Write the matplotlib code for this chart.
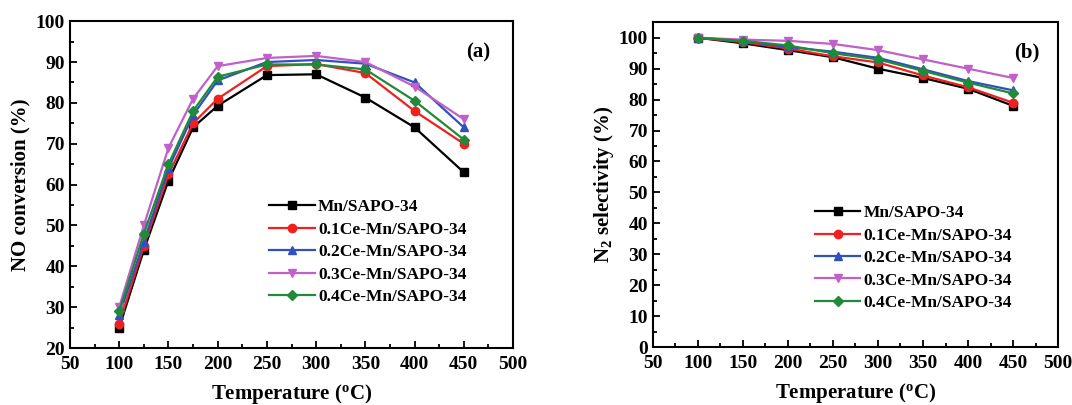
import matplotlib
matplotlib.use('Agg')
import matplotlib.pyplot as plt

plt.rcParams['font.family'] = 'Liberation Serif'
plt.rcParams['font.weight'] = 'bold'
plt.rcParams['mathtext.fontset'] = 'custom'
plt.rcParams['mathtext.rm'] = 'Liberation Serif:bold'
plt.rcParams['mathtext.bf'] = 'Liberation Serif:bold'
plt.rcParams['mathtext.it'] = 'Liberation Serif:bold'

labels = ['Mn/SAPO-34', '0.1Ce-Mn/SAPO-34', '0.2Ce-Mn/SAPO-34',
          '0.3Ce-Mn/SAPO-34', '0.4Ce-Mn/SAPO-34']
colors = ['black', '#f02020', '#3050c0', '#c060c8', '#208a3a']
markers = ['s', 'o', '^', 'v', 'D']

# (a) NO conversion
temp_a = [100, 125, 150, 175, 200, 250, 300, 350, 400, 450]
no_mn = [25, 44, 61, 74, 79.3, 86.8, 87, 81.3, 74, 63]
no_01 = [26, 45, 62.5, 75, 81, 89, 89.5, 87.3, 78, 70]
no_02 = [28, 46, 64, 77, 85.5, 90, 90.5, 89.6, 85, 74]
no_03 = [30, 50, 69, 81, 89, 91, 91.5, 90, 84, 76]
no_04 = [29, 48, 65, 78, 86.4, 89.4, 89.4, 88.2, 80.5, 71]

# (b) N2 selectivity
temp_b = [100, 150, 200, 250, 300, 350, 400, 450]
n2_mn = [100, 98.2, 96, 93.7, 90, 87, 83.5, 78]
n2_01 = [100, 98.6, 96.5, 94, 92, 87.8, 84, 79]
n2_02 = [100, 99, 97, 95.5, 93.5, 89.8, 86, 83]
n2_03 = [100, 99.4, 99, 98, 96, 93, 90, 87]
n2_04 = [100, 99, 97.5, 95, 93, 89.3, 85.5, 82]

fig = plt.figure(figsize=(10.72, 4.05), dpi=100)
ax1 = fig.add_axes([0.0653, 0.1407, 0.4133, 0.807])
ax2 = fig.add_axes([0.609, 0.143, 0.378, 0.802])


def style_axis(ax):
    for sp in ax.spines.values():
        sp.set_linewidth(1.5)
    ax.tick_params(which='both', direction='in', top=False, right=False,
                   labelsize=14, width=1.3)
    ax.tick_params(which='major', length=5)
    ax.tick_params(which='minor', length=3)
    ax.tick_params(axis='x', pad=6)
    ax.set_xlim(50, 500)
    ax.set_xticks(range(50, 501, 50))
    ax.set_xticks(range(75, 500, 50), minor=True)
    ax.set_xlabel(r'Temperature ($^\mathregular{o}$C)', fontsize=15,
                  fontweight='bold', labelpad=6)


for ys, lab, c, m in zip([no_mn, no_01, no_02, no_03, no_04], labels, colors, markers):
    ax1.plot(temp_a, ys, color=c, marker=m, markersize=6 if m != 'D' else 5,
             linewidth=1.6, label=lab)
style_axis(ax1)
ax1.set_ylim(20, 100)
ax1.set_yticks(range(20, 101, 10))
ax1.set_yticks(range(25, 100, 10), minor=True)
ax1.set_ylabel('NO conversion (%)', fontsize=15, fontweight='bold', labelpad=4)
ax1.text(0.921, 0.905, '(a)', transform=ax1.transAxes, fontsize=15,
         fontweight='bold', ha='center', va='center')
ax1.legend(loc='upper left', bbox_to_anchor=(0.45, 0.455), frameon=False,
           fontsize=12.5, handlelength=2.6, handletextpad=0.2,
           labelspacing=0.36, borderpad=0, borderaxespad=0)

for ys, lab, c, m in zip([n2_mn, n2_01, n2_02, n2_03, n2_04], labels, colors, markers):
    ax2.plot(temp_b, ys, color=c, marker=m, markersize=6 if m != 'D' else 5,
             linewidth=1.6, label=lab)
style_axis(ax2)
ax2.set_ylim(0, 105)
ax2.set_yticks(range(0, 101, 10))
ax2.set_yticks(range(5, 101, 10), minor=True)
ax2.set_ylabel(r'N$_\mathregular{2}$ selectivity (%)', fontsize=15,
               fontweight='bold', labelpad=2)
ax2.text(0.923, 0.908, '(b)', transform=ax2.transAxes, fontsize=15,
         fontweight='bold', ha='center', va='center')
ax2.legend(loc='upper left', bbox_to_anchor=(0.40, 0.437), frameon=False,
           fontsize=12.5, handlelength=2.6, handletextpad=0.2,
           labelspacing=0.36, borderpad=0, borderaxespad=0)

fig.savefig('out.png', dpi=100)
